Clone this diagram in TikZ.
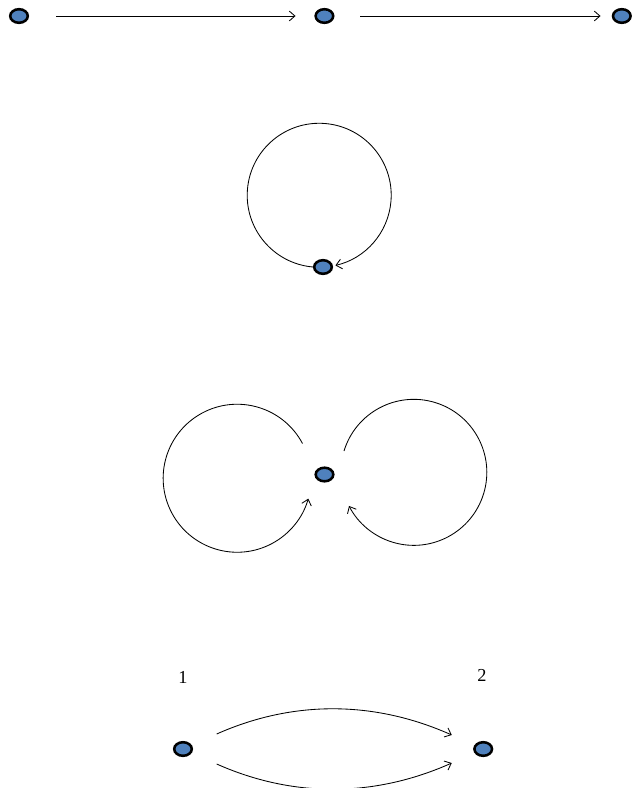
\documentclass[tikz,border=0pt]{standalone}
\usepackage{fontspec}
\setmainfont{Liberation Serif}
\usepackage{tikz}
\usetikzlibrary{arrows.meta, shapes.geometric, positioning}
\definecolor{vblue}{RGB}{79,129,189}
\tikzset{
	vertex/.style={
		draw,
		ellipse,
		line width=1.8pt,
		fill=vblue,
		minimum width=0.44cm,
		minimum height=0.34cm,
		inner sep=0pt
	},
	arrow/.style={
		-{Straight Barb[length=4pt, width=7pt]},
		line width=0.6pt
	}
}

\begin{document}
\begin{tikzpicture}[x=0.025cm, y=0.025cm, font=\fontsize{13}{15}\selectfont]
		\useasboundingbox (0,0) rectangle (636,-788);
		
		% Ligne du haut : trois sommets
		\node[vertex] (v1) at (19,-16) {};
		\node[vertex, right=7.13cm of v1] (v2) {};
		\node[vertex, right=6.93cm of v2] (v3) {};
		
		\draw[arrow, shorten <=0.68cm, shorten >=0.47cm] (v1) -- (v2);
		\draw[arrow, shorten <=0.65cm, shorten >=0.28cm] (v2) -- (v3);
		
		%--- Boucle simple ---
		\node[vertex] (lv) at (323,-267) {};
		\draw[arrow] (lv.west) arc[start angle=-95, end angle=-437, radius=72];
		
		%--- Double boucle ---
		\node[vertex] (dv) at (324.5,-474.5) {};
		\path (dv) ++(-22,31) coordinate (dl);
		\path (dv) ++(19.5,23.5) coordinate (dr);
		\draw[arrow] (dl) arc[start angle=28, end angle=344, radius=74];
		\draw[arrow] (dr) arc[start angle=163, end angle=-152.6, radius=73];
		
		%--- Deux arcs de 1 vers 2 ---
		\node[vertex] (n1) at (183,-749) {};
		\node[vertex, right=7.0cm of n1] (n2) {};
		\node (l1) at (183,-677) {1};
		\node (l2) at (482,-675) {2};
		
		\draw[arrow, shorten <=0.68cm, shorten >=0.62cm] (n1) to[out=24, in=156] (n2);
		\draw[arrow, shorten <=0.68cm, shorten >=0.62cm] (n1) to[out=-24, in=-156] (n2);
	\end{tikzpicture}
\end{document}
